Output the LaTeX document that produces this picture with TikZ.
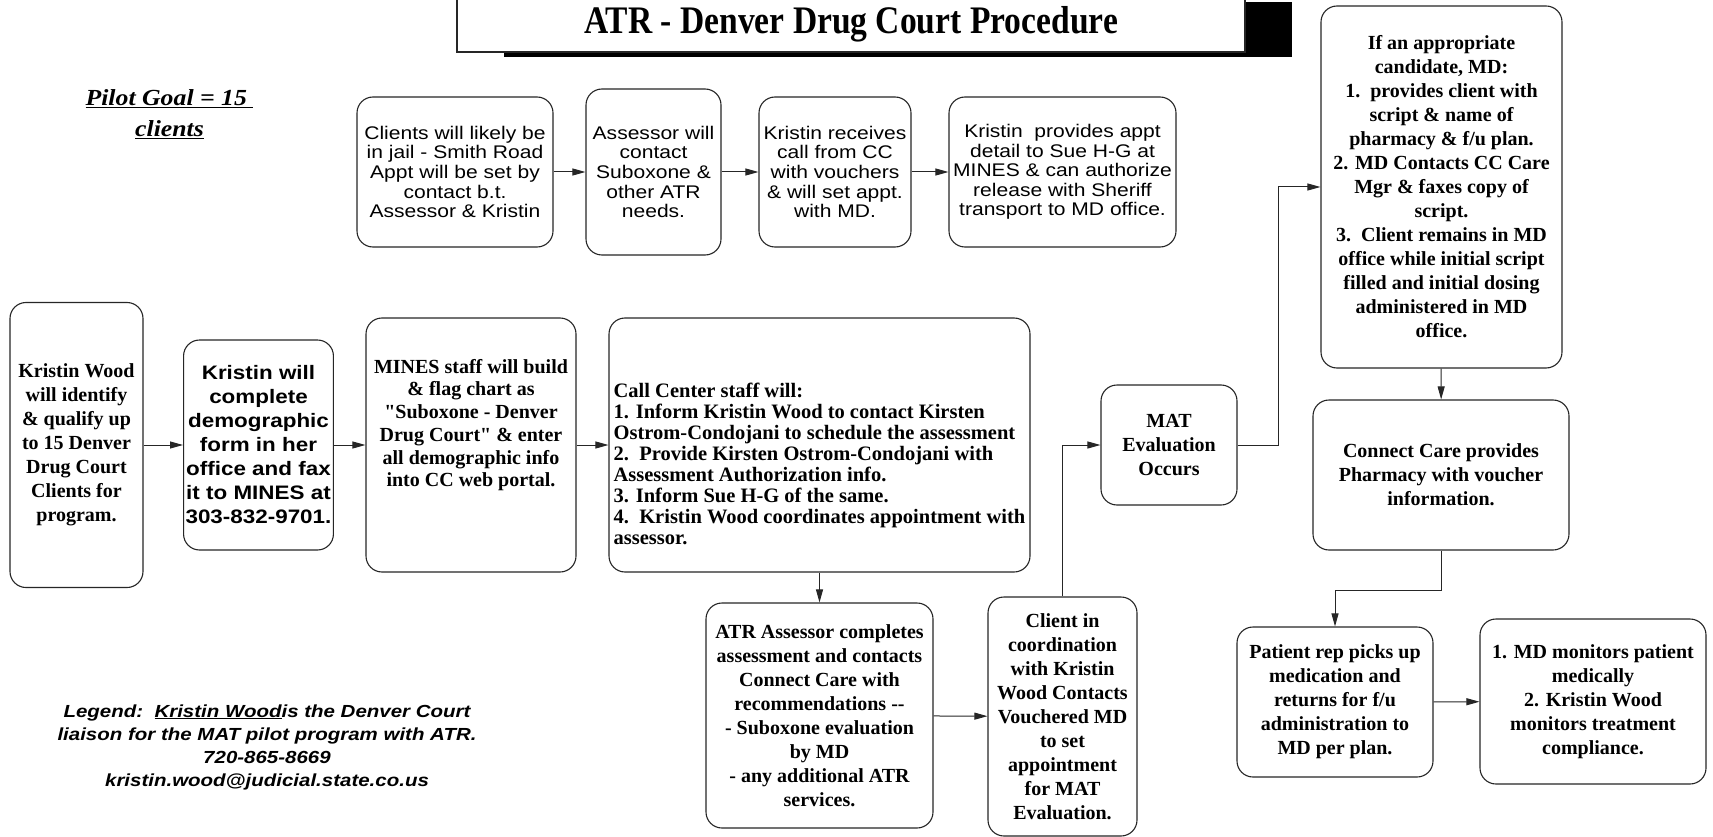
\documentclass[tikz,border=0pt]{standalone}
\usepackage{fontspec}
\setmainfont{Liberation Serif}
\setsansfont{Liberation Sans}
\newfontfamily\widesans[FakeStretch=1.15]{Liberation Sans}
\newfontfamily\legendsans[FakeStretch=1.17]{Liberation Sans}
\newfontfamily\titleserif[FakeStretch=0.86]{Liberation Serif}
\newfontfamily\goalserif[FakeStretch=1.12]{Liberation Serif}
\newfontfamily\quoteserif[Ligatures=TeXOff]{Liberation Serif}
\newcommand{\straightquote}{{\quoteserif\bfseries"}}
\usetikzlibrary{arrows.meta,shadows}

\begin{document}
\begin{tikzpicture}[x=1pt,y=-1pt,>={Triangle[length=13pt,width=7pt]}]

\tikzstyle{box}=[draw=black!85,line width=1.1pt,rounded corners=16pt,fill=white,align=center,inner sep=2pt]
\tikzstyle{plainstep}=[box,font=\widesans\fontsize{18.3}{19.6}\selectfont]
\tikzstyle{boldstep}=[box,font=\bfseries\fontsize{20}{24}\selectfont]
\tikzstyle{flow}=[->,draw=black!85,line width=1pt]

\useasboundingbox (0,0) rectangle (1713,837);

%title
\node[draw=black!85,line width=1.1pt,fill=white,minimum width=788pt,minimum height=55pt,
  drop shadow={shadow xshift=47pt,shadow yshift=-5pt,fill=black,opacity=1},
  font=\titleserif\bfseries\fontsize{39}{42}\selectfont] (title) at (851,24.5) {ATR - Denver Drug Court Procedure};

\node[align=center,font=\goalserif\bfseries\itshape\fontsize{23}{31}\selectfont] (goal) at (169.5,114)
  {\underline{Pilot Goal = 15\ }\\\underline{clients}};

%jail row
\node[plainstep,minimum width=196pt,minimum height=150pt] (jail) at (455,172)
  {Clients will likely be\\in jail - Smith Road\\Appt will be set by\\contact b.t.\\Assessor \& Kristin};
\node[plainstep,minimum width=135pt,minimum height=166pt] (assessor) at (653.5,172)
  {Assessor will\\contact\\Suboxone \&\\other ATR\\needs.};
\node[plainstep,minimum width=152pt,minimum height=150pt] (vouchers) at (835,172)
  {Kristin receives\\call from CC\\with vouchers\\\& will set appt.\\with MD.};
\node[plainstep,minimum width=227pt,minimum height=150pt] (transport) at (1062.5,172)
  {Kristin\ \ provides appt\\detail to Sue H-G at\\MINES \& can authorize\\release with Sheriff\\transport to MD office.};

\draw[flow] (jail) -- (assessor);
\draw[flow] (assessor) -- (vouchers);
\draw[flow] (vouchers) -- (transport);

%main row
\node[boldstep,minimum width=133pt,minimum height=285pt] (identify) at (76.5,445)
  {Kristin Wood\\will identify\\\& qualify up\\to 15 Denver\\Drug Court\\Clients for\\program.};
\node[box,font=\widesans\bfseries\fontsize{19.5}{24}\selectfont,minimum width=149pt,minimum height=210pt] (demographic) at (258.5,445)
  {Kristin will\\complete\\demographic\\form in her\\office and fax\\it to MINES at\\303-832-9701.};
\node[boldstep,font=\bfseries\fontsize{20}{22.7}\selectfont,minimum width=210pt,minimum height=254pt] (mines) at (471,445)
  {MINES staff will build\\\& flag chart as\\\straightquote Suboxone - Denver\\Drug Court\straightquote{} \& enter\\all demographic info\\into CC web portal.\rule[-44pt]{0pt}{0pt}};
\node[boldstep,align=left,font=\bfseries\fontsize{20.5}{21}\selectfont,minimum width=421pt,minimum height=254pt] (callcenter) at (819.5,445)
  {\rule{0pt}{52pt}Call Center staff will:\\
   1. Inform Kristin Wood to contact Kirsten\\
   Ostrom-Condojani to schedule the assessment\\
   2.\ \ Provide Kirsten Ostrom-Condojani with\\
   Assessment Authorization info.\\
   3. Inform Sue H-G of the same.\\
   4.\ \ Kristin Wood coordinates appointment with\\
   assessor.};

\draw[flow] (identify) -- (demographic);
\draw[flow] (demographic) -- (mines);
\draw[flow] (mines) -- (callcenter);

%assessment and evaluation
\node[boldstep,minimum width=227pt,minimum height=225pt] (atrassess) at (819.5,715.5)
  {ATR Assessor completes\\assessment and contacts\\Connect Care with\\recommendations -{}-\\- Suboxone evaluation\\by MD\\- any additional ATR\\services.};
\node[boldstep,minimum width=149pt,minimum height=239pt] (clientcontact) at (1062.5,716.5)
  {Client in\\coordination\\with Kristin\\Wood Contacts\\Vouchered MD\\to set\\appointment\\for MAT\\Evaluation.};
\node[boldstep,minimum width=136pt,minimum height=120pt] (mateval) at (1169,445)
  {MAT\\Evaluation\\Occurs};

\draw[flow] (callcenter) -- (atrassess);
\draw[flow] (atrassess) -- (clientcontact);
\draw[flow] (clientcontact.north) |- (mateval.west);

%MD and pharmacy
\node[boldstep,minimum width=241pt,minimum height=362pt] (candidate) at (1441.5,187)
  {If an appropriate\\candidate, MD:\\1.\ \ provides client with\\script \& name of\\pharmacy \& f/u plan.\\2. MD Contacts CC Care\\Mgr \& faxes copy of\\script.\\3.\ \ Client remains in MD\\office while initial script\\filled and initial dosing\\administered in MD\\office.};
\node[boldstep,minimum width=256pt,minimum height=150pt] (pharmacy) at (1441,475)
  {Connect Care provides\\Pharmacy with voucher\\information.};
\node[boldstep,minimum width=196pt,minimum height=150pt] (pickup) at (1335,702)
  {Patient rep picks up\\medication and\\returns for f/u\\administration to\\MD per plan.};
\node[boldstep,minimum width=226pt,minimum height=165pt] (monitor) at (1593,701.5)
  {1. MD monitors patient\\medically\\2. Kristin Wood\\monitors treatment\\compliance.};

\draw[flow] (mateval.east) -- ++(41,0) |- (candidate.west);
\draw[flow] (candidate) -- (pharmacy);
\draw[flow] (pharmacy.south) -- ++(0,40) -| (pickup.north);
\draw[flow] (pickup) -- (monitor);

%legend
\node[align=center,font=\legendsans\bfseries\itshape\fontsize{17.5}{23}\selectfont] (legend) at (267,747)
  {Legend:\ \ \underline{Kristin Wood}is the Denver Court\\liaison for the MAT pilot program with ATR.\\720-865-8669\\kristin.wood@judicial.state.co.us};

\end{tikzpicture}
\end{document}
